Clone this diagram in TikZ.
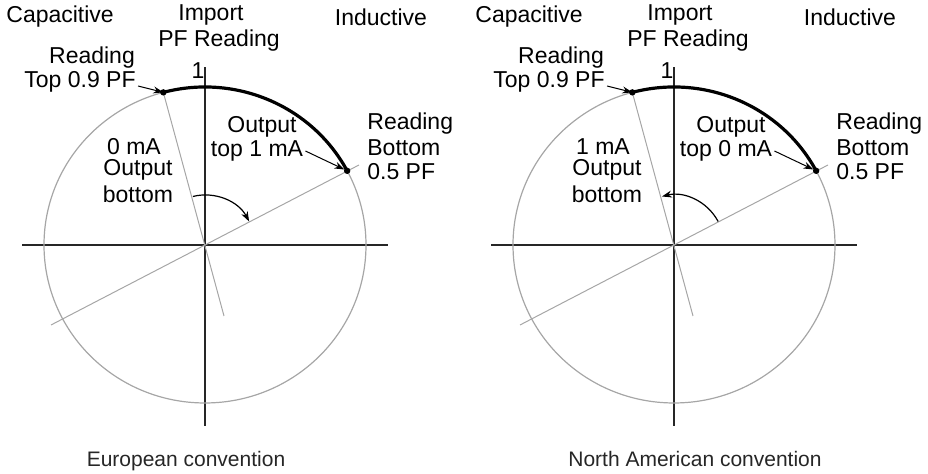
\documentclass[tikz,border=0pt]{standalone}
\usepackage{fontspec}
\setmainfont{Liberation Sans}
\usetikzlibrary{arrows.meta}

\tikzset{
  axis/.style={line width=1.1pt, black!85},
  pfcircle/.style={gray!70, line width=0.6pt},
  radial/.style={gray!70, line width=0.5pt},
  pfarc/.style={line width=1.6pt},
  lbl/.style={font=\fontsize{11.5}{12}\selectfont, inner sep=0pt},
  callout/.style={-{Stealth[length=5pt,width=3.5pt]}, line width=0.5pt},
  sweep/.style={-{Stealth[length=5pt,width=3.5pt]}, line width=0.6pt},
  convlabel/.style={font=\fontsize{10.5}{12}\selectfont, text=black!85, inner sep=0pt, anchor=base},
}

\begin{document}
\begin{tikzpicture}[x=0.5pt, y=0.5pt]
  \useasboundingbox (0,0) rectangle (928,474);
  \foreach \cx/\sa/\ea/\botmA/\topmA/\conv/\capx in {205/104/28/0/1/European convention/-19, 674/28/104/1/0/North American convention/21}{
    \begin{scope}[shift={(\cx,229)}]
      \coordinate (o) at (0,0);
      % axes and the PF circle
      \draw[axis] (-183,0) -- (183,0);
      \draw[axis] (0,-181) -- (0,178);
      \draw[pfcircle] (o) ellipse [x radius=161, y radius=158];

      % readings: top 0.9 PF, bottom 0.5 PF
      \coordinate (p09) at (105:161 and 158);
      \coordinate (p05) at (28:161 and 158);
      \coordinate (q09) at (19,-71);
      \coordinate (a05) at (154,80);
      \coordinate (b05) at (-154,-80);
      \draw[radial] (p09) -- (q09);
      \draw[radial] (b05) -- (a05);
      \draw[pfarc] (p09) arc [start angle=105, end angle=28, x radius=161, y radius=158];
      \fill (p09) circle [radius=3.2];
      \fill (p05) circle [radius=3.2];

      % sense of the output
      \coordinate (s) at (\sa:50);
      \draw[sweep] (s) arc [start angle=\sa, end angle=\ea, radius=50];

      % labels
      \node[lbl, anchor=west] (capac) at (-199,228) {Capacitive};
      \node[lbl] (import) at (6,230) {Import};
      \node[lbl] (pfr) at (14,204) {PF Reading};
      \node[lbl] (one) at (-7,174) {1};
      \node[lbl] (induc) at (176,228) {Inductive};
      \node[lbl] (rtop) at (-113,187) {Reading};
      \node[lbl] (top09) at (-125,163) {Top 0.9 PF};
      \node[lbl] (outt) at (57,118) {Output};
      \node[lbl] (toptm) at (52,94) {top \topmA\ mA};
      \node[lbl, anchor=west] (rbot) at (162,121) {Reading};
      \node[lbl, anchor=west] (bot) at (162,97) {Bottom};
      \node[lbl, anchor=west] (pf05) at (162,73) {0.5 PF};
      \node[lbl] (botma) at (-71,98) {\botmA\ mA};
      \node[lbl] (outb) at (-67,75) {Output};
      \node[lbl] (botw) at (-67,51) {bottom};
      \node[convlabel] (conv) at (\capx,-222) {\conv};

      \draw[callout] ([xshift=1pt,yshift=-2pt]top09.east) -- (p09);
      \draw[callout, shorten >=1.5pt] ([xshift=1pt]toptm.east) -- (p05);
    \end{scope}
  }
\end{tikzpicture}
\end{document}
